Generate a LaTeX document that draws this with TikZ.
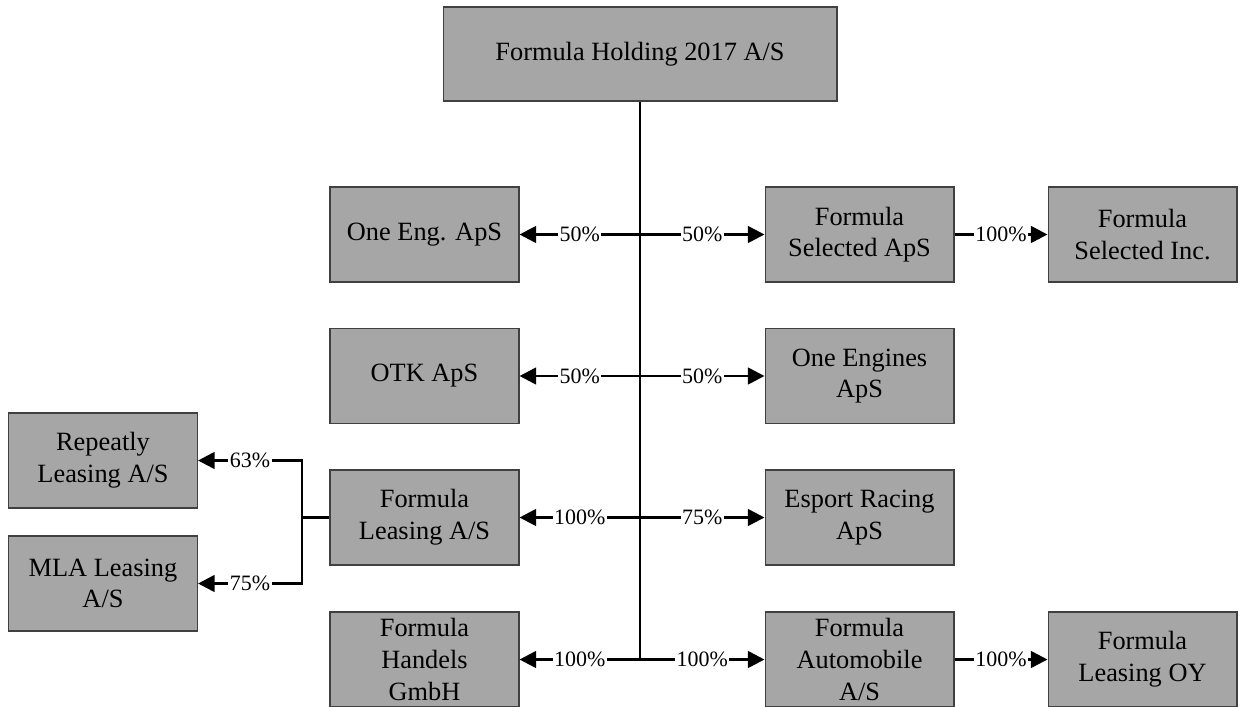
\documentclass[tikz,border=0pt]{standalone}
\usepackage{fontspec}
\setmainfont{Liberation Serif}
\usepackage{xcolor}
\usetikzlibrary{arrows.meta,positioning}
\definecolor{boxgray}{HTML}{A6A6A6}
\definecolor{edgegray}{HTML}{404040}

\begin{document}
\begin{tikzpicture}[x=0.02cm,y=-0.02cm,>={Triangle[length=9.5pt,width=9.5pt]},
    company/.style={draw=edgegray, line width=0.6pt, fill=boxgray, minimum width=3.78cm, minimum height=1.9cm, align=center, inner sep=2pt, font=\fontsize{15}{18}\selectfont},
    pct/.style={fill=white, inner sep=0.8pt, font=\fontsize{12.5}{14}\selectfont},
    link/.style={line width=1.5pt}]
    \useasboundingbox (0,0) rectangle (1243,706);
    \node[company, minimum width=7.88cm, minimum height=1.88cm] (hold) at (640,54) {Formula Holding 2017 A/S};
    \node[company] (oneeng) at (424.5,234.5) {One Eng. ApS};
    \node[company] (selaps) at (859.5,234.5) {Formula\\Selected ApS};
    \node[company] (selinc) at (1142.5,234.5) {Formula\\Selected Inc.};
    \node[company] (otk) at (424.5,376) {OTK ApS};
    \node[company] (engines) at (859.5,376) {One Engines\\ApS};
    \node[company] (leasing) at (424.5,517.5) {Formula\\Leasing A/S};
    \node[company] (esport) at (859.5,517.5) {Esport Racing\\ApS};
    \node[company] (repeatly) at (103,460.5) {Repeatly\\Leasing A/S};
    \node[company] (mla) at (103,583.5) {MLA Leasing\\A/S};
    \node[company] (handels) at (424.5,659.5) {Formula\\Handels\\GmbH};
    \node[company] (auto) at (859.5,659.5) {Formula\\Automobile\\A/S};
    \node[company] (leasoy) at (1142.5,659.5) {Formula\\Leasing OY};
    % trunk and branch points
    \coordinate (t1) at (hold.south |- oneeng);
    \coordinate (t2) at (hold.south |- otk);
    \coordinate (t3) at (hold.south |- leasing);
    \coordinate (t4) at (hold.south |- handels);
    \coordinate (br) at (302,517.5);
    \draw [link] (hold) -- (t4);
    \draw [link,->] (t1) -- node[pct] {50\%} (oneeng);
    \draw [link,->] (t1) -- node[pct] {50\%} (selaps);
    \draw [link,->] (selaps) -- node[pct] {100\%} (selinc);
    \draw [link,->] (t2) -- node[pct] {50\%} (otk);
    \draw [link,->] (t2) -- node[pct] {50\%} (engines);
    \draw [link,->] (t3) -- node[pct] {100\%} (leasing);
    \draw [link,->] (t3) -- node[pct] {75\%} (esport);
    \draw [link,->] (t4) -- node[pct] {100\%} (handels);
    \draw [link,->] (t4) -- node[pct] {100\%} (auto);
    \draw [link,->] (auto) -- node[pct] {100\%} (leasoy);
    % sub-holdings of Formula Leasing
    \draw [link] (leasing) -- (br);
    \draw [link,->] (br) |- node[pct,pos=0.75] {63\%} (repeatly);
    \draw [link,->] (br) |- node[pct,pos=0.75] {75\%} (mla);
\end{tikzpicture}
\end{document}
